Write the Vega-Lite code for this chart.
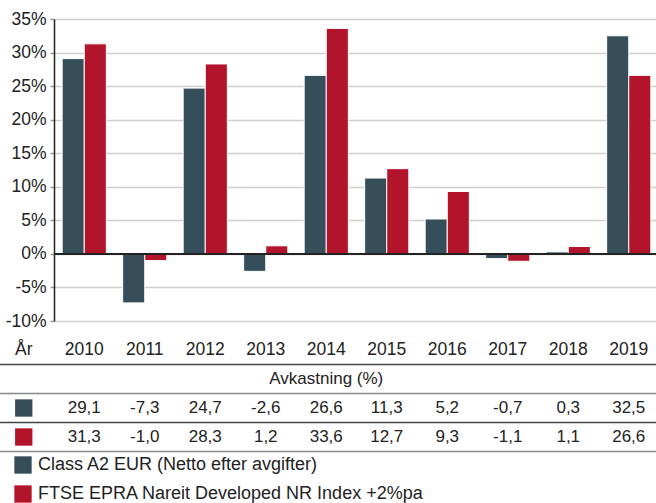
{
  "$schema": "https://vega.github.io/schema/vega-lite/v6.json",
  "width": 605,
  "height": 484,
  "autosize": {"type": "none"},
  "padding": {"left": 54, "top": 19, "right": 0, "bottom": 0},
  "background": "white",
  "config": {
    "font": "Liberation Sans",
    "view": {"stroke": null},
    "locale": {"number": {"decimal": ",", "thousands": " ", "grouping": [3], "currency": ["", ""], "minus": "-"}}
  },
  "datasets": {
    "returns": [
      {"year": "2010", "series": "Class A2 EUR (Netto efter avgifter)", "value": 29.1},
      {"year": "2011", "series": "Class A2 EUR (Netto efter avgifter)", "value": -7.3},
      {"year": "2012", "series": "Class A2 EUR (Netto efter avgifter)", "value": 24.7},
      {"year": "2013", "series": "Class A2 EUR (Netto efter avgifter)", "value": -2.6},
      {"year": "2014", "series": "Class A2 EUR (Netto efter avgifter)", "value": 26.6},
      {"year": "2015", "series": "Class A2 EUR (Netto efter avgifter)", "value": 11.3},
      {"year": "2016", "series": "Class A2 EUR (Netto efter avgifter)", "value": 5.2},
      {"year": "2017", "series": "Class A2 EUR (Netto efter avgifter)", "value": -0.7},
      {"year": "2018", "series": "Class A2 EUR (Netto efter avgifter)", "value": 0.3},
      {"year": "2019", "series": "Class A2 EUR (Netto efter avgifter)", "value": 32.5},
      {"year": "2010", "series": "FTSE EPRA Nareit Developed NR Index +2%pa", "value": 31.3},
      {"year": "2011", "series": "FTSE EPRA Nareit Developed NR Index +2%pa", "value": -1.0},
      {"year": "2012", "series": "FTSE EPRA Nareit Developed NR Index +2%pa", "value": 28.3},
      {"year": "2013", "series": "FTSE EPRA Nareit Developed NR Index +2%pa", "value": 1.2},
      {"year": "2014", "series": "FTSE EPRA Nareit Developed NR Index +2%pa", "value": 33.6},
      {"year": "2015", "series": "FTSE EPRA Nareit Developed NR Index +2%pa", "value": 12.7},
      {"year": "2016", "series": "FTSE EPRA Nareit Developed NR Index +2%pa", "value": 9.3},
      {"year": "2017", "series": "FTSE EPRA Nareit Developed NR Index +2%pa", "value": -1.1},
      {"year": "2018", "series": "FTSE EPRA Nareit Developed NR Index +2%pa", "value": 1.1},
      {"year": "2019", "series": "FTSE EPRA Nareit Developed NR Index +2%pa", "value": 26.6}
    ]
  },
  "data": {"name": "returns"},
  "resolve": {"scale": {"x": "independent", "y": "independent"}},
  "layer": [
    {
      "layer": [
        {
          "mark": {"type": "bar", "stroke": "white", "strokeWidth": 1},
          "encoding": {
            "x": {"field": "year", "type": "nominal", "scale": {"paddingInner": 0.27, "paddingOuter": 0.135}, "axis": null},
            "xOffset": {"field": "series", "type": "nominal", "sort": ["Class A2 EUR (Netto efter avgifter)", "FTSE EPRA Nareit Developed NR Index +2%pa"]},
            "y": {
              "field": "value", "type": "quantitative",
              "scale": {"domain": [-10, 35], "range": [302, 0], "nice": false, "zero": false},
              "axis": {
                "values": [-10, -5, 0, 5, 10, 15, 20, 25, 30, 35],
                "labelExpr": "datum.value + '%'",
                "title": null,
                "grid": true, "gridColor": "#cfcfcf", "gridWidth": 1.5,
                "domainColor": "#222222", "domainWidth": 1.5,
                "tickColor": "#999999", "tickSize": 4, "tickWidth": 1.5,
                "labelFontSize": 17.5, "labelColor": "#222222", "labelPadding": 4
              }
            },
            "color": {
              "field": "series", "type": "nominal",
              "scale": {"domain": ["Class A2 EUR (Netto efter avgifter)", "FTSE EPRA Nareit Developed NR Index +2%pa"], "range": ["#364e5a", "#b1142b"]},
              "legend": {
                "title": null, "orient": "none", "legendX": -40, "legendY": 437,
                "direction": "vertical", "symbolType": "square", "symbolSize": 300,
                "symbolStrokeWidth": 0, "symbolOpacity": 1,
                "labelFontSize": 18, "labelColor": "#222222", "labelOffset": 6,
                "labelLimit": 1000, "rowPadding": 11, "padding": 0
              }
            }
          }
        },
        {
          "data": {"values": [{}]},
          "mark": {"type": "rule", "color": "#222222", "strokeWidth": 2},
          "encoding": {"y": {"datum": 0, "type": "quantitative"}}
        }
      ]
    },
    {
      "layer": [
        {
          "transform": [{"filter": "datum.series == 'Class A2 EUR (Netto efter avgifter)'"}],
          "mark": {"type": "text", "fontSize": 17.5, "color": "#222222"},
          "encoding": {
            "x": {"field": "year", "type": "nominal", "scale": {"type": "point", "domain": ["År", "2010", "2011", "2012", "2013", "2014", "2015", "2016", "2017", "2018", "2019"], "range": [-30.25, 574.75], "padding": 0}, "axis": null},
            "y": {"datum": "År", "type": "nominal", "scale": {"type": "point", "domain": ["År", "Avkastning (%)", "Class A2 EUR (Netto efter avgifter)", "FTSE EPRA Nareit Developed NR Index +2%pa"], "range": [331, 418], "padding": 0}, "axis": null},
            "text": {"field": "year"}
          }
        },
        {
          "data": {"values": [{"t": "År"}]},
          "mark": {"type": "text", "fontSize": 17.5, "color": "#222222"},
          "encoding": {
            "x": {"datum": "År", "type": "nominal"},
            "y": {"datum": "År", "type": "nominal"},
            "text": {"field": "t"}
          }
        },
        {
          "data": {"values": [{"t": "Avkastning (%)"}]},
          "mark": {"type": "text", "fontSize": 17, "color": "#222222"},
          "encoding": {
            "x": {"datum": "2014", "type": "nominal"},
            "y": {"datum": "Avkastning (%)", "type": "nominal"},
            "text": {"field": "t"}
          }
        },
        {
          "mark": {"type": "text", "fontSize": 17, "color": "#222222"},
          "encoding": {
            "x": {"field": "year", "type": "nominal"},
            "y": {"field": "series", "type": "nominal"},
            "text": {"field": "value", "type": "quantitative", "format": ".1f"}
          }
        },
        {
          "transform": [{"filter": "datum.year == '2010'"}],
          "mark": {"type": "point", "shape": "square", "filled": true, "size": 300, "opacity": 1, "strokeWidth": 0},
          "encoding": {
            "x": {"datum": "År", "type": "nominal"},
            "y": {"field": "series", "type": "nominal"},
            "color": {"field": "series", "type": "nominal"}
          }
        }
      ]
    },
    {
      "data": {"values": [{"row": "År"}, {"row": "Avkastning (%)"}, {"row": "Class A2 EUR (Netto efter avgifter)"}, {"row": "FTSE EPRA Nareit Developed NR Index +2%pa"}]},
      "mark": {"type": "rule", "yOffset": 14.5, "strokeWidth": 1.3},
      "encoding": {
        "x": {"datum": 0, "type": "quantitative", "scale": {"domain": [0, 1], "range": [-54, 605], "nice": false, "zero": false}, "axis": null},
        "x2": {"datum": 1},
        "y": {"field": "row", "type": "nominal", "scale": {"type": "point", "domain": ["År", "Avkastning (%)", "Class A2 EUR (Netto efter avgifter)", "FTSE EPRA Nareit Developed NR Index +2%pa"], "range": [331, 418], "padding": 0}, "axis": null},
        "stroke": {"condition": {"test": "datum.row == 'Avkastning (%)' || datum.row == 'FTSE EPRA Nareit Developed NR Index +2%pa'", "value": "#888888"}, "value": "#444444"}
      }
    }
  ]
}
